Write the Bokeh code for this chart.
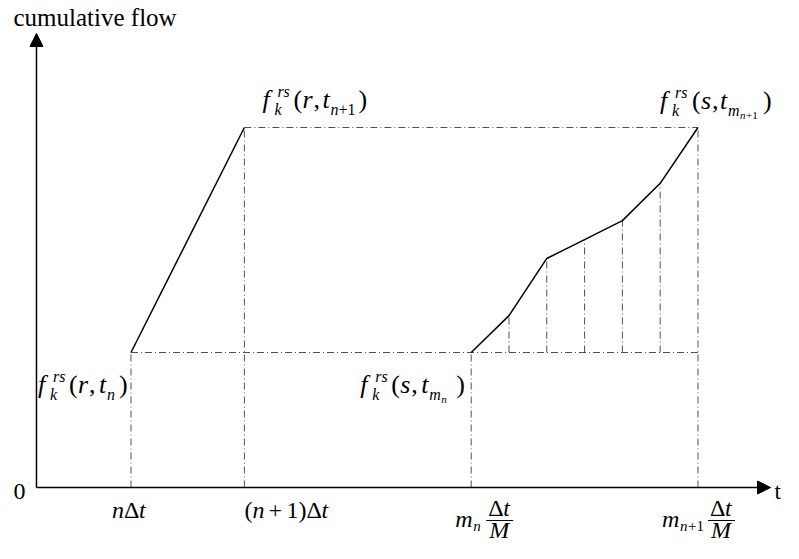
from bokeh.plotting import figure
from bokeh.models import Range1d, Arrow, NormalHead
from bokeh.core.properties import value
from bokeh.embed import file_html
from bokeh.resources import INLINE

# ---------------- data ----------------
slot_t = [2.5, 5.5]            # nΔt, (n+1)Δt
slot_flow = [3.0, 8.0]         # f(r,t_n), f(r,t_{n+1})
sub_t = [11.5, 12.5, 13.5, 14.5, 15.5, 16.5, 17.5]   # m_n Δt/M ... m_{n+1} Δt/M
sub_flow = [3.0, 3.82, 5.09, 5.51, 5.93, 6.76, 8.0]  # f(s, ·)
axis_end_t = 19.42
axis_end_flow = 10.09
y_title = "cumulative flow"
x_title = "t"
origin_label = "0"

# ---------------- figure ----------------
W, H = 783, 543
XR = (-0.952, 19.762)
YR = (-1.244, 10.822)
PX = W / (XR[1] - XR[0])
PY = H / (YR[1] - YR[0])

p = figure(width=W, height=H, output_backend="svg", toolbar_location=None,
           x_range=Range1d(*XR), y_range=Range1d(*YR), min_border=0)
p.axis.visible = False
p.grid.visible = False
p.outline_line_color = None
p.background_fill_color = "white"
p.border_fill_color = "white"

DASH = dict(line_color="#505050", line_width=1, line_dash="7 3 1 3")

# horizontal dash-dot guides
p.segment(x0=[slot_t[0], slot_t[1]], y0=[slot_flow[0], slot_flow[1]],
          x1=[sub_t[-1], sub_t[-1]], y1=[slot_flow[0], slot_flow[1]], **DASH)
# vertical dash-dot guides to the axis
p.segment(x0=[slot_t[0], slot_t[1], sub_t[0], sub_t[-1]], y0=[0, 0, 0, 0],
          x1=[slot_t[0], slot_t[1], sub_t[0], sub_t[-1]],
          y1=[slot_flow[0], slot_flow[1], sub_flow[0], sub_flow[-1]], **DASH)
# inner sub-interval verticals
p.segment(x0=sub_t[1:-1], y0=[sub_flow[0]] * (len(sub_t) - 2),
          x1=sub_t[1:-1], y1=sub_flow[1:-1], **DASH)

# solid cumulative curves
p.line(slot_t, slot_flow, line_color="black", line_width=1.5)
p.line(sub_t, sub_flow, line_color="black", line_width=1.5)

# axes with arrows
p.add_layout(Arrow(end=NormalHead(size=13, fill_color="black", line_color="black"),
                   x_start=0, y_start=0, x_end=axis_end_t, y_end=0,
                   line_color="black", line_width=1.5))
p.add_layout(Arrow(end=NormalHead(size=13, fill_color="black", line_color="black"),
                   x_start=0, y_start=0, x_end=0, y_end=axis_end_flow,
                   line_color="black", line_width=1.5))

FONT = value("Liberation Serif")


def put(x, y, txt, dx, dy, size, italic=False):
    # dy is the wanted baseline offset; compensate the renderer's baseline drop
    p.text(x=[x], y=[y], text=[txt], x_offset=dx, y_offset=dy - 0.3 * size,
           text_font=FONT, text_font_size=f"{size}px",
           text_font_style="italic" if italic else "normal",
           text_baseline="alphabetic", text_align="left", text_color="black")


F, S, SS = 26, 16, 11


def flow_label(x, y, dx, dy, arg, subs, close_dx, pos):
    """f_k^rs(arg, t_sub) ; pos = offsets of '(', arg, ',', 't'"""
    put(x, y, "f", dx, dy, F, True)
    put(x, y, "rs", dx + 15, dy - 11, S, True)
    put(x, y, "k", dx + 12, dy + 7, S, True)
    put(x, y, "(", dx + pos[0], dy, F)
    put(x, y, arg, dx + pos[1], dy, F, True)
    put(x, y, ",", dx + pos[2], dy, F)
    put(x, y, "t", dx + pos[3], dy, F, True)
    for txt, ddx, ddy, sz, it in subs:
        put(x, y, txt, dx + ddx, dy + ddy, sz, it)
    put(x, y, ")", dx + close_dx, dy, F)


flow_label(slot_t[0], slot_flow[0], -93, 40, "r",
           [("n", 69, 7, S, True)], 81, (31, 40, 51, 61))
flow_label(slot_t[1], slot_flow[1], 18, -20, "r",
           [("n", 68, 7, S, True), ("+1", 76, 7, S, False)], 96, (31, 40, 51, 60))
flow_label(sub_t[0], sub_flow[0], -111, 40, "s",
           [("m", 69, 7, S, True), ("n", 81, 10, SS, True)], 96, (31, 40, 51, 61))
flow_label(sub_t[-1], sub_flow[-1], -38, -19, "s",
           [("m", 68, 7, S, True), ("n", 80, 10, SS, True), ("+1", 86, 10, SS, False)],
           103, (32, 41, 52, 60))

# tick-like labels under the time axis
T = 24
BL = 30
put(slot_t[0], 0, "n", -19, BL, T, True)
put(slot_t[0], 0, "Δ", -7, BL, T)
put(slot_t[0], 0, "t", 8, BL, T, True)

put(slot_t[1], 0, "(", 0, BL, T)
put(slot_t[1], 0, "n", 8, BL, T, True)
put(slot_t[1], 0, "+", 24, BL, T)
put(slot_t[1], 0, "1", 42, BL, T)
put(slot_t[1], 0, ")", 54, BL, T)
put(slot_t[1], 0, "Δ", 62, BL, T)
put(slot_t[1], 0, "t", 77, BL, T, True)


def frac_label(x, dx, subs, frac_dx):
    put(x, 0, "m", dx, 39, T, True)
    for txt, ddx, ddy, sz, it in subs:
        put(x, 0, txt, dx + ddx, 39 + ddy, sz, it)
    fx = dx + frac_dx
    put(x, 0, "Δ", fx + 2, 28, T)
    put(x, 0, "t", fx + 17, 28, T, True)
    put(x, 0, "M", fx + 3, 50, T, True)
    bar_y = -33 / PY
    p.segment(x0=[x + fx / PX], y0=[bar_y], x1=[x + (fx + 27) / PX], y1=[bar_y],
              line_color="black", line_width=1)


frac_label(sub_t[0], -16, [("n", 18, 4, 15, True)], 31)
frac_label(sub_t[-1], -36, [("n", 18, 4, 15, True), ("+1", 26, 4, 15, False)], 46)

# axis titles
put(0, axis_end_flow, y_title, -23, -8, 25)
put(0, 0, origin_label, -23, 11, 24)
put(axis_end_t, 0, x_title, 4, 11, 23)

open("out.html", "w").write(file_html(p, INLINE))
